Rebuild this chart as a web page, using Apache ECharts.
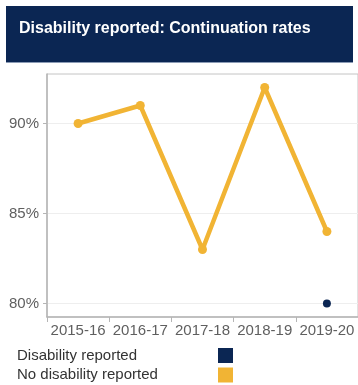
<!DOCTYPE html>
<html>
<head>
<meta charset="utf-8">
<script src="https://cdn.jsdelivr.net/npm/echarts@6/dist/echarts.min.js"></script>
<style>
  html, body { margin: 0; padding: 0; background: #ffffff; }
  #chart { width: 358px; height: 385px; }
</style>
</head>
<body>
<div id="chart"></div>
<script>
// Academic years on the category axis
const years = ['2015-16', '2016-17', '2017-18', '2018-19', '2019-20'];
// Continuation rates (%) per group; null where no figure is published
const disabilityReported = [null, null, null, null, 80];
const noDisabilityReported = [90, 91, 83, 92, 84];
// Y-axis tick values (%)
const yTicks = [80, 85, 90];

const titleText = 'Disability reported: Continuation rates';
const seriesNames = ['Disability reported', 'No disability reported'];
const navy = '#0b2653';
const gold = '#f1b434';
const seriesColors = [navy, gold];
const font = '"Liberation Sans", Arial, sans-serif';

// Key below the axis: name on the left, colour swatch in a fixed column
const keyItems = [];
seriesNames.forEach((name, i) => {
  const top = 345 + i * 19.5;
  keyItems.push({
    type: 'text', left: 17, top: top + 3,
    style: { text: name, fill: '#333333', font: '15px ' + font }
  });
  keyItems.push({
    type: 'rect', left: 218, top: top + 3,
    shape: { width: 15, height: 15 }, style: { fill: seriesColors[i] }
  });
});

const chart = echarts.init(document.getElementById('chart'), null, { renderer: 'canvas' });

chart.setOption({
  animation: false,
  backgroundColor: '#ffffff',
  graphic: [
    { type: 'rect', left: 6, top: 6, shape: { width: 347, height: 56 }, style: { fill: navy } },
    { type: 'rect', left: 6, top: 62, shape: { width: 347, height: 1 }, style: { fill: '#8b9bb5' } },
    {
      type: 'text', left: 19, top: 21,
      style: { text: titleText, fill: '#ffffff', font: 'bold 16px ' + font }
    }
  ].concat(keyItems),
  grid: {
    left: 47, right: -4, top: 74, bottom: 68,
    show: true, borderColor: '#c4c4c4', borderWidth: 1, backgroundColor: 'transparent'
  },
  xAxis: {
    type: 'category',
    data: years,
    boundaryGap: true,
    axisLine: { lineStyle: { color: '#b5b5b5', width: 1.5 } },
    axisTick: { show: true, length: 5, lineStyle: { color: '#b5b5b5' } },
    axisLabel: { color: '#5f5f5f', fontSize: 15, fontFamily: font, margin: 6, interval: 0 },
    splitLine: { show: false }
  },
  yAxis: {
    type: 'value',
    min: 79.25, max: 92.75,
    axisLine: { show: true, lineStyle: { color: '#b5b5b5', width: 1.5 } },
    axisTick: { show: true, length: 4, customValues: yTicks, lineStyle: { color: '#b5b5b5' } },
    axisLabel: {
      customValues: yTicks,
      color: '#5f5f5f', fontSize: 15, fontFamily: font, margin: 8,
      formatter: v => v + '%'
    },
    splitLine: { show: true, lineStyle: { color: '#eeeeee', width: 1 } }
  },
  series: [
    {
      name: seriesNames[0],
      type: 'line',
      data: disabilityReported,
      itemStyle: { color: navy },
      lineStyle: { color: navy, width: 4 },
      symbol: 'circle', symbolSize: 8,
      showAllSymbol: true,
      connectNulls: false
    },
    {
      name: seriesNames[1],
      type: 'line',
      data: noDisabilityReported,
      itemStyle: { color: gold },
      lineStyle: { color: gold, width: 4.5 },
      symbol: 'circle', symbolSize: 9,
      showAllSymbol: true
    }
  ]
});
</script>
</body>
</html>
